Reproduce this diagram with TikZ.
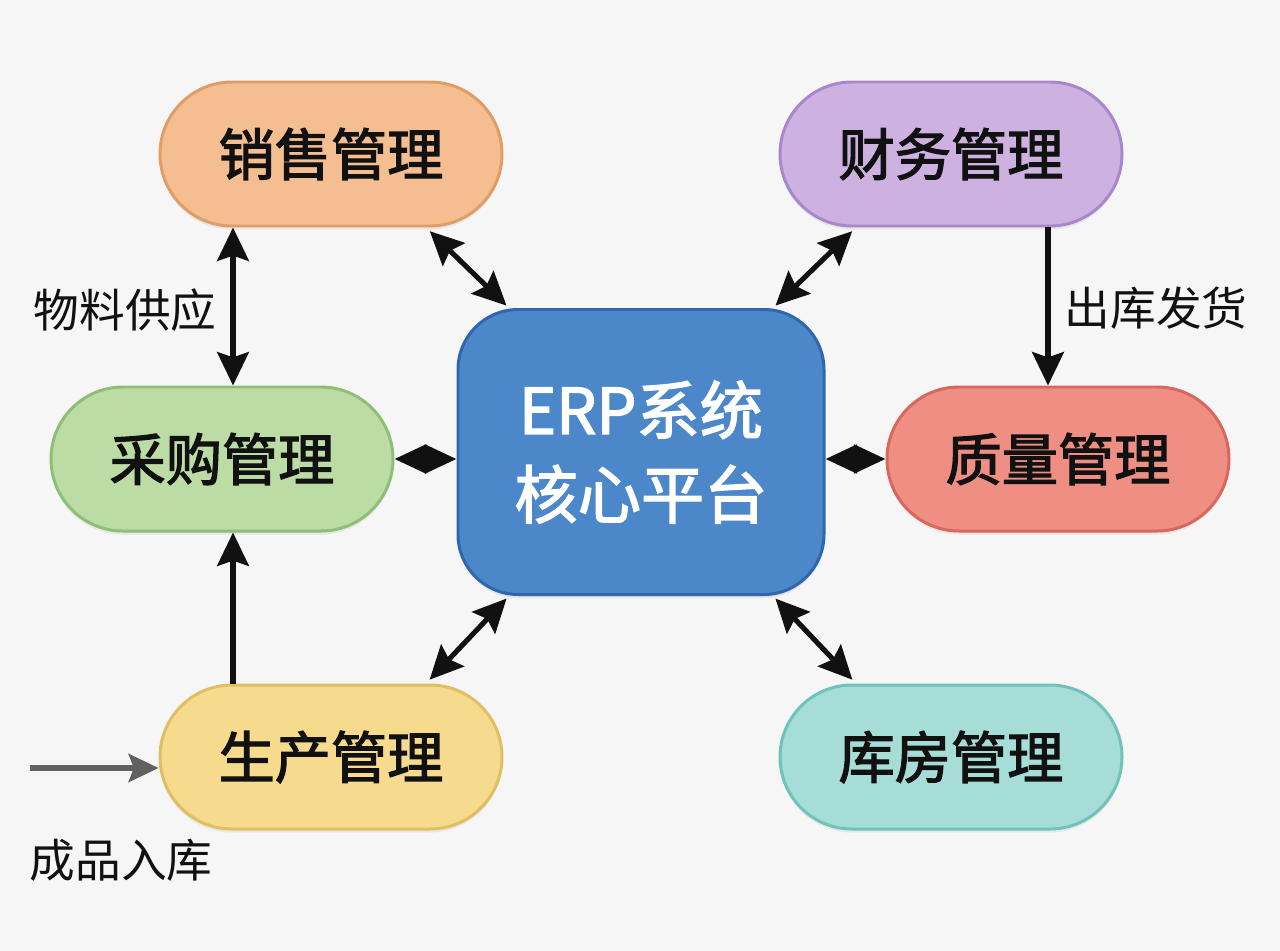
\documentclass[tikz,border=0pt]{standalone}
\usepackage{fontspec}
\setmainfont{Noto Sans CJK SC}
\newfontfamily\medfont[FakeBold=2.2]{Noto Sans CJK SC}
\usepackage{xcolor}
\usepackage{tikz}
\usetikzlibrary{positioning,arrows.meta,shapes.misc,shadows,calc}

\definecolor{bgc}{HTML}{F6F6F6}
\definecolor{salesF}{HTML}{F4BE90}\definecolor{salesD}{HTML}{E09D68}
\definecolor{finF}{HTML}{CDB1E1}\definecolor{finD}{HTML}{A888CB}
\definecolor{purF}{HTML}{BBDCA4}\definecolor{purD}{HTML}{8EBF76}
\definecolor{qualF}{HTML}{EF8F84}\definecolor{qualD}{HTML}{D8685E}
\definecolor{prodF}{HTML}{F6DA8E}\definecolor{prodD}{HTML}{E0BE62}
\definecolor{whF}{HTML}{A6DDD6}\definecolor{whD}{HTML}{6FC3BA}
\definecolor{erpF}{HTML}{4C88C9}\definecolor{erpD}{HTML}{2F67AE}
\definecolor{inkc}{HTML}{111111}

\begin{document}
\begin{tikzpicture}[
  font=\fontsize{26pt}{30pt}\selectfont,
  module/.style={rounded rectangle, draw, line width=1.7pt,
                 minimum width=6.84cm, minimum height=2.88cm, inner sep=0pt,
                 text=inkc, font=\fontsize{32pt}{36pt}\selectfont\medfont,
                 drop shadow={shadow xshift=0pt, shadow yshift=-2pt, opacity=0.12}},
  core/.style={draw=erpD, fill=erpF, line width=1.7pt, rounded corners=1.2cm,
               minimum width=7.32cm, minimum height=5.7cm, align=center,
               text=white, font=\fontsize{36pt}{48pt}\selectfont\medfont,
               drop shadow={shadow xshift=0pt, shadow yshift=-2pt, opacity=0.15}},
  arr/.style={-{Stealth[length=19pt, width=18pt, inset=3pt]}, line width=2.9pt, inkc},
  darr/.style={{Stealth[length=19pt, width=18pt, inset=3pt]}-{Stealth[length=19pt, width=18pt, inset=3pt]},
               line width=2.9pt, inkc},
  kite/.style={{Stealth[length=18pt, width=16pt, inset=0pt]}-{Stealth[length=18pt, width=16pt, inset=0pt]},
               line width=2.9pt, inkc},
  lbl/.style={text=inkc}
]
  \useasboundingbox[fill=bgc] (0,0) rectangle (25.6,-19.02);

  % central platform
  \node[core] (erp) at (12.82,-9.04) {ERP系统\\核心平台};

  % modules
  \node[module, fill=salesF, draw=salesD] (sales) at (6.62,-3.08) {销售管理};
  \node[module, fill=finF, draw=finD] (fin) at (19.02,-3.08) {财务管理};
  \node[module, fill=purF, draw=purD] (pur) at (4.44,-9.18) {采购管理};
  \node[module, fill=qualF, draw=qualD] (qual) at (21.16,-9.18) {质量管理};
  \node[module, fill=prodF, draw=prodD] (prod) at (6.62,-15.14) {生产管理};
  \node[module, fill=whF, draw=whD] (wh) at (19.02,-15.14) {库房管理};

  % links to the core
  \draw[darr, shorten <=3pt, shorten >=2pt] ($(sales.south)+(1.9,0)$) -- ($(erp.north west)+(1.05,0)$);
  \draw[darr, shorten <=3pt, shorten >=2pt] ($(fin.south)+(-1.9,0)$) -- ($(erp.north east)+(-1.05,0)$);
  \draw[darr, shorten <=3pt, shorten >=2pt] ($(prod.north)+(1.9,0)$) -- ($(erp.south west)+(1.05,0)$);
  \draw[darr, shorten <=3pt, shorten >=2pt] ($(wh.north)+(-1.9,0)$) -- ($(erp.south east)+(-1.05,0)$);
  \draw[kite] (pur.east) -- (pur.east -| erp.west);
  \draw[kite] (qual.west) -- (qual.west -| erp.east);

  % flows between modules
  \draw[darr] ([xshift=0.22cm]pur.north |- sales.south) -- ([xshift=0.22cm]pur.north);
  \draw[arr] ([xshift=-0.2cm]qual.north |- fin.south) -- ([xshift=-0.2cm]qual.north);
  \draw[arr] ([xshift=0.22cm]pur.south |- prod.north) -- ([xshift=0.22cm]pur.south);

  \coordinate (src) at (0.6,-15.36);
  \draw[-{Stealth[length=17pt, width=16pt, inset=3pt]}, line width=3pt, black!62]
    (src) -- (src -| prod.west);

  % labels
  \node[lbl] (supply) at (2.5,-6.2) {物料供应};
  \node[lbl] (ship) at (23.12,-6.16) {出库发货};
  \node[lbl] (stock) at (2.42,-17.2) {成品入库};
\end{tikzpicture}
\end{document}
